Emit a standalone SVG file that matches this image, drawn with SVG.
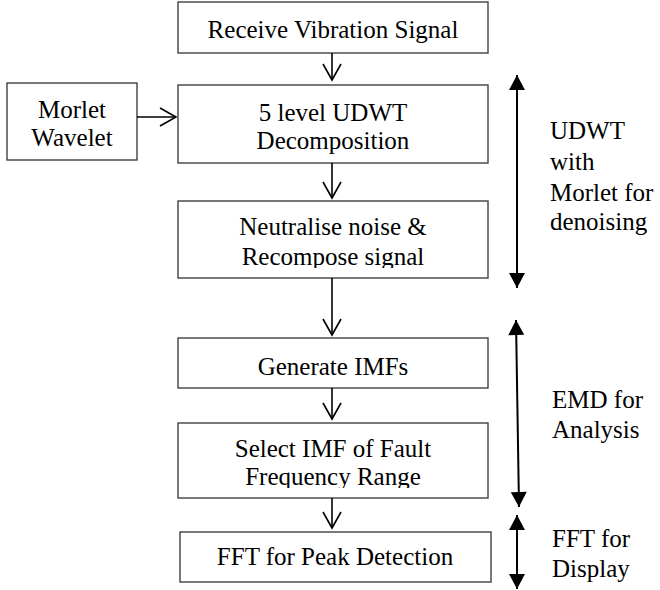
<svg xmlns="http://www.w3.org/2000/svg" width="660" height="590" viewBox="0 0 660 590">
<style>
  .box { fill: #ffffff; stroke: #404040; stroke-width: 1.4; }
  .t { font-family: "Liberation Serif", "Times New Roman", serif; font-size: 25px; fill: #000000; }
  .c { text-anchor: middle; }
  .flow { stroke: #000000; stroke-width: 1.6; fill: none; }
  .span { stroke: #000000; stroke-width: 2; fill: none; }
</style>
<defs>
  <marker id="vhead" markerUnits="userSpaceOnUse" viewBox="-18 -11 20 22" markerWidth="20" markerHeight="22" refX="0" refY="0" orient="auto" overflow="visible">
    <path d="M-16,-9 L0,0 L-16,9" fill="none" stroke="#000" stroke-width="1.6"/>
  </marker>
  <marker id="tri" markerUnits="userSpaceOnUse" viewBox="-16 -9 17 18" markerWidth="17" markerHeight="18" refX="0" refY="0" orient="auto-start-reverse" overflow="visible">
    <path d="M-15,-8 L0,0 L-15,8 Z" fill="#000"/>
  </marker>
  <clipPath id="clipN"><rect x="178" y="201" width="310" height="67"/></clipPath>
  <clipPath id="clipS"><rect x="178" y="423" width="310" height="65"/></clipPath>
</defs>

<g id="n-receive">
  <rect class="box" x="178" y="2" width="310" height="51"/>
  <text class="t c" x="333" y="38">Receive Vibration Signal</text>
</g>
<g id="n-morlet">
  <rect class="box" x="7" y="83" width="130" height="77"/>
  <text class="t c" x="72" y="118">Morlet</text>
  <text class="t c" x="72" y="146">Wavelet</text>
</g>
<g id="n-udwt">
  <rect class="box" x="178" y="85" width="310" height="78"/>
  <text class="t c" x="333" y="121">5 level UDWT</text>
  <text class="t c" x="333" y="149">Decomposition</text>
</g>
<g id="n-neutralise">
  <rect class="box" x="178" y="201" width="310" height="77"/>
  <g clip-path="url(#clipN)">
    <text class="t c" x="333" y="235">Neutralise noise &amp;</text>
    <text class="t c" x="333" y="265">Recompose signal</text>
  </g>
</g>
<g id="n-generate">
  <rect class="box" x="178" y="338" width="310" height="50"/>
  <text class="t c" x="333" y="375">Generate IMFs</text>
</g>
<g id="n-select">
  <rect class="box" x="178" y="423" width="310" height="75"/>
  <g clip-path="url(#clipS)">
    <text class="t c" x="333" y="457">Select IMF of Fault</text>
    <text class="t c" x="333" y="485">Frequency Range</text>
  </g>
</g>
<g id="n-fft">
  <rect class="box" x="180" y="532" width="311" height="50"/>
  <text class="t c" x="335" y="565">FFT for Peak Detection</text>
</g>

<g id="connectors">
  <line class="flow" x1="332" y1="53" x2="332" y2="80" marker-end="url(#vhead)"/>
  <line class="flow" x1="137" y1="117" x2="176" y2="117" marker-end="url(#vhead)"/>
  <line class="flow" x1="332" y1="163" x2="332" y2="198" marker-end="url(#vhead)"/>
  <line class="flow" x1="332" y1="278" x2="332" y2="335" marker-end="url(#vhead)"/>
  <line class="flow" x1="332" y1="388" x2="332" y2="419" marker-end="url(#vhead)"/>
  <line class="flow" x1="332" y1="498" x2="332" y2="528" marker-end="url(#vhead)"/>
  <line class="span" x1="517" y1="75" x2="517" y2="288" marker-start="url(#tri)" marker-end="url(#tri)"/>
  <line class="span" x1="516" y1="320" x2="519" y2="507" marker-start="url(#tri)" marker-end="url(#tri)"/>
  <line class="span" x1="517" y1="515" x2="517" y2="589" marker-start="url(#tri)" marker-end="url(#tri)"/>
</g>

<g id="labels">
  <text class="t" x="550" y="139">UDWT</text>
  <text class="t" x="550" y="170">with</text>
  <text class="t" x="550" y="201">Morlet for</text>
  <text class="t" x="550" y="230">denoising</text>
  <text class="t" x="552" y="408">EMD for</text>
  <text class="t" x="552" y="438">Analysis</text>
  <text class="t" x="552" y="547">FFT for</text>
  <text class="t" x="552" y="577">Display</text>
</g>
</svg>
